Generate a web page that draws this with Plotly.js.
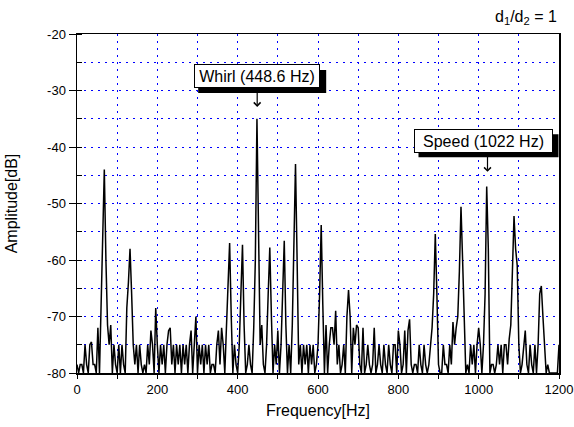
<!DOCTYPE html>
<html><head><meta charset="utf-8">
<script src="https://cdn.plot.ly/plotly-3.0.1.min.js"></script>
<style>html,body{margin:0;padding:0;background:#fff}#chart{width:574px;height:427px}</style>
</head><body><div id="chart"></div>
<script>
// Frequency bins every 4 Hz from 0 to 1200 Hz
const binStepHz = 4;

// Amplitude [dB], one array per 100 Hz span
const amp000 = [-78.5,-80,-78.5,-78.5,-80,-75,-78.5,-80,-75,-74.5,-78.5,-78.5,-80,-72,-80,-66,-58,-44,-60,-71.5,-75,-71.5,-80,-75,-78.5];
const amp100 = [-80,-75,-80,-75,-78.5,-80,-68.5,-64,-58,-66,-75,-78.5,-75,-80,-75,-78.5,-80,-78.5,-80,-75,-78.5,-72.5,-75,-80,-68.5];
const amp200 = [-75,-80,-75,-78.5,-75,-80,-75,-72.5,-72,-78.5,-75,-80,-75,-78.5,-75,-80,-75,-78.5,-75,-80,-75,-72.5,-80,-75,-70];
const amp300 = [-80,-75,-78.5,-75,-80,-75,-78.5,-75,-80,-78.5,-78.5,-80,-75,-72.5,-78.5,-72,-75,-80,-72,-64,-57,-70,-80,-75,-78.5];
const amp400 = [-80,-75,-66,-57.3,-71.5,-80,-78.5,-75,-78.5,-80,-72,-60,-35,-55,-75,-71.5,-78.5,-80,-75,-66,-57.8,-70,-80,-75,-78.5];
const amp500 = [-72.5,-80,-75,-66,-56.6,-71.5,-80,-75,-80,-71.5,-58,-43,-60,-78.5,-75,-80,-75,-78.5,-75,-80,-75,-78.5,-75,-80,-78.5];
const amp600 = [-75,-66,-53.8,-68,-80,-71.5,-80,-75,-72,-72,-75,-69,-78.5,-75,-80,-78.5,-75,-80,-70,-65.3,-70,-80,-72,-75,-71.5];
const amp700 = [-72,-78.5,-80,-72,-80,-78.5,-75,-78.5,-80,-78.5,-72,-80,-78.5,-75,-78.5,-80,-75,-78.5,-80,-75,-78.5,-80,-75,-75,-80];
const amp800 = [-72.5,-75,-80,-78.5,-72.5,-80,-72.5,-70.5,-78.5,-80,-78.5,-78.5,-80,-75,-78.5,-80,-75,-78.5,-80,-78.5,-75,-72,-66,-55.4,-66];
const amp900 = [-78.5,-80,-80,-75,-78.5,-78.5,-80,-75,-78.5,-71,-75,-72,-70,-62,-50.6,-60,-71,-80,-78.5,-80,-75,-78.5,-75,-80,-75];
const amp1000 = [-72,-75,-80,-75,-66,-47,-58,-80,-78.5,-78.5,-80,-78.5,-75,-78.5,-75,-80,-75,-75,-78.5,-74,-71.5,-62,-52.2,-58,-61];
const amp1100 = [-75,-80,-78.5,-75,-72.5,-78.5,-80,-75,-78.5,-80,-75,-80,-75,-66,-64.6,-70,-75,-80,-78.5,-80,-80,-80,-80,-80,-80,-75];

const amplitude = [].concat(amp000,amp100,amp200,amp300,amp400,amp500,amp600,amp700,amp800,amp900,amp1000,amp1100);
const frequency = amplitude.map((_, i) => i * binStepHz);

// Axis tick labels
const yTickVals = [-80,-70,-60,-50,-40,-30,-20];
const yTickText = ['-80','-70','-60','-50','-40','-30','-20'];
const xTickVals = [0,200,400,600,800,1000,1200];
const xTickText = ['0','200','400','600','800','1000','1200'];

// Annotation labels
const whirlLabel = 'Whirl (448.6 Hz)';
const whirlFreq = 448.6;
const speedLabel = 'Speed (1022 Hz)';
const speedFreq = 1022;

const FONT = 'Liberation Sans, Arial, sans-serif';
const GRID = {color: '#0000ff', dash: '2px,5px', width: 1};

function box(text, x, y, w) {
  return {x: x, y: y, xref: 'x', yref: 'y', text: text, showarrow: false,
    font: {family: FONT, size: 16, color: '#000'}, width: w, height: 20,
    borderpad: 1, borderwidth: 1, bordercolor: '#000', bgcolor: '#fff', align: 'center'};
}
function shadow(x, y, halfW, halfH) {
  return {type: 'rect', xref: 'x', yref: 'y', xsizemode: 'pixel', ysizemode: 'pixel',
    xanchor: x, yanchor: y, x0: -halfW + 5, x1: halfW + 5, y0: -halfH - 5, y1: halfH - 5,
    fillcolor: '#000', line: {width: 0}, layer: 'above'};
}
function arrow(x, y, ay) {
  return {x: x, y: y, xref: 'x', yref: 'y', text: '', showarrow: true,
    ax: 0, ay: ay, arrowhead: 4, arrowsize: 1.1, arrowwidth: 1.2, arrowcolor: '#000'};
}

const whirlBoxY = -27.5, speedBoxX = 1012, speedBoxY = -38.9;

const annotations = [
  arrow(whirlFreq, -32.9, -19), box(whirlLabel, whirlFreq, whirlBoxY, 122),
  arrow(speedFreq, -44.4, -20), box(speedLabel, speedBoxX, speedBoxY, 135),
  {xref: 'paper', yref: 'paper', x: 1, y: 1, xanchor: 'right', yanchor: 'bottom', yshift: 5,
   showarrow: false, text: 'd<sub>1</sub>/d<sub>2</sub> = 1',
   font: {family: FONT, size: 16, color: '#000'}}
];

const shapes = [
  shadow(whirlFreq, whirlBoxY, 64, 11.5),
  shadow(speedBoxX, speedBoxY, 70, 11.5)
];

const trace = {
  x: frequency, y: amplitude, type: 'scatter', mode: 'lines',
  line: {color: '#000', width: 1.5}, hoverinfo: 'skip'
};

const layout = {
  width: 574, height: 427,
  margin: {l: 77, r: 15, t: 34, b: 54},
  paper_bgcolor: '#fff', plot_bgcolor: '#fff',
  showlegend: false,
  font: {family: FONT, size: 13, color: '#000'},
  xaxis: {
    range: [0, 1200], tickmode: 'array', tickvals: xTickVals, ticktext: xTickText,
    ticks: 'outside', ticklen: 4, tickwidth: 1, tickcolor: '#000',
    showline: true, linecolor: '#000', linewidth: 1.5, mirror: true,
    showgrid: true, gridcolor: GRID.color, griddash: GRID.dash, gridwidth: GRID.width,
    zeroline: false,
    minor: {tickmode: 'linear', tick0: 0, dtick: 100, ticks: 'outside', ticklen: 4, tickcolor: '#000',
            showgrid: true, gridcolor: GRID.color, griddash: GRID.dash, gridwidth: GRID.width},
    tickfont: {family: FONT, size: 13},
    title: {text: 'Frequency[Hz]', font: {family: FONT, size: 16}, standoff: 8}
  },
  yaxis: {
    range: [-80, -20], tickmode: 'array', tickvals: yTickVals, ticktext: yTickText,
    ticks: 'outside', ticklen: 7, tickwidth: 1, tickcolor: '#000',
    showline: true, linecolor: '#000', linewidth: 1.5, mirror: true,
    showgrid: true, gridcolor: GRID.color, griddash: GRID.dash, gridwidth: GRID.width,
    zeroline: false,
    minor: {tickmode: 'linear', tick0: -80, dtick: 5, ticks: 'inside', ticklen: 5, tickcolor: '#000',
            showgrid: true, gridcolor: GRID.color, griddash: GRID.dash, gridwidth: GRID.width},
    tickfont: {family: FONT, size: 13},
    title: {text: 'Amplitude[dB]', font: {family: FONT, size: 16}, standoff: 25}
  },
  shapes: shapes,
  annotations: annotations
};

Plotly.newPlot('chart', [trace], layout, {displayModeBar: false, staticPlot: true});
</script>
</body></html>
